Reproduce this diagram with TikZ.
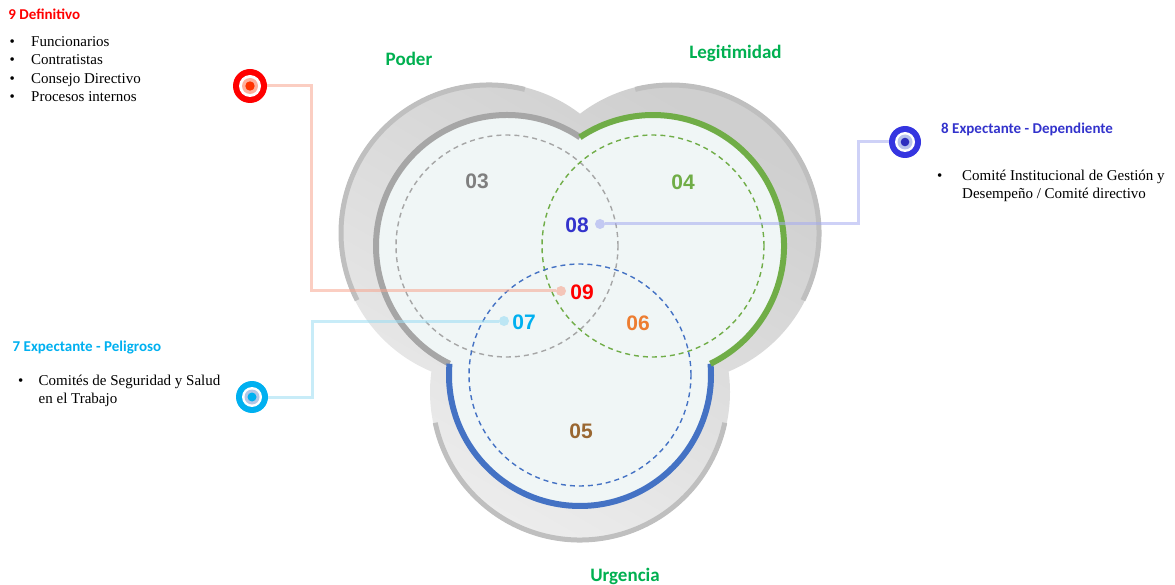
\documentclass[tikz,border=0pt]{standalone}
\usepackage{fontspec}
\setmainfont{Liberation Serif}
\newfontfamily\calfont{Carlito}
\newfontfamily\numfont{Liberation Sans}
\definecolor{pgreen}{HTML}{00B050}
\definecolor{cgray}{HTML}{A6A6A6}
\definecolor{cgreen}{HTML}{70AD47}
\definecolor{cblue}{HTML}{4472C4}
\definecolor{innerfill}{HTML}{F0F6F6}
\definecolor{rimgray}{HTML}{BFBFBF}
\definecolor{outerA}{HTML}{CFCFCF}
\definecolor{outerB}{HTML}{EDEDED}
\definecolor{red9}{HTML}{FF0000}
\definecolor{blue8}{HTML}{3333CC}
\definecolor{cyan7}{HTML}{00B0F0}
\definecolor{orange6}{HTML}{ED7D31}
\definecolor{brown5}{HTML}{9A6731}
\definecolor{gray3}{HTML}{7F7F7F}
\definecolor{ring8}{HTML}{3535E0}
\definecolor{pink9}{HTML}{FFB09C}
\definecolor{dot9}{HTML}{FF3300}
\definecolor{light8}{HTML}{B8C2EC}
\definecolor{light7}{HTML}{B4C7E7}
\definecolor{line9}{HTML}{F7A58F}
\definecolor{line8}{HTML}{A5ABF0}
\definecolor{line7}{HTML}{9ADCF3}
\begin{document}
\begin{tikzpicture}[x=1pt,y=1pt,
  rimline/.style={rimgray,line width=5pt},
  border/.style={line width=6pt},
  dashc/.style={line width=1.4pt,dash pattern=on 5pt off 4pt},
  num/.style={inner sep=0pt,font=\numfont\bfseries\fontsize{21}{24}\selectfont},
  title/.style={inner sep=0pt,anchor=base,text=pgreen,font=\calfont\bfseries\fontsize{19}{22}\selectfont},
  head/.style={inner sep=0pt,anchor=base west,font=\calfont\bfseries\fontsize{15}{18}\selectfont},
  body/.style={inner sep=0pt,anchor=base west,font=\fontsize{15}{18.3}\selectfont},
  icon/.style={circle,inner sep=0pt,minimum size=#1},
  conn/.style={line width=3pt,opacity=0.55},
  enddot/.style={circle,inner sep=0pt,minimum size=10pt,opacity=0.6}
]
\useasboundingbox (0,0) rectangle (1175,-585);
% centres
\coordinate (OL) at (489,-233);
\coordinate (OR) at (671,-233);
\coordinate (OB) at (580,-392);
\coordinate (CL) at (507,-246);
\coordinate (CR) at (653,-246);
\coordinate (CB) at (580,-375);
% outer grey shape
\shade[top color=outerA,bottom color=outerB,shading angle=-30]
  (OL) circle[radius=150] (OR) circle[radius=150] (OB) circle[radius=150];
\draw[rimline] ([shift={(76:148)}]OL) arc[start angle=76,end angle=207,radius=148];
\draw[rimline] ([shift={(-27:148)}]OR) arc[start angle=-27,end angle=104,radius=148];
\draw[rimline] ([shift={(192:148)}]OB) arc[start angle=192,end angle=348,radius=148];
% inner union
\fill[innerfill] (CL) circle[radius=131] (CR) circle[radius=131] (CB) circle[radius=131];
\draw[border,cgray] ([shift={(56.1:131)}]CL) arc[start angle=56.1,end angle=244,radius=131];
\draw[border,cblue] ([shift={(175.05:131)}]CB) arc[start angle=175.05,end angle=364.95,radius=131];
\draw[border,cgreen] ([shift={(-64:131)}]CR) arc[start angle=-64,end angle=123.9,radius=131];
% dashed circles
\draw[dashc,cgray] (CL) circle[radius=111];
\draw[dashc,cgreen] (CR) circle[radius=111];
\draw[dashc,cblue] (CB) circle[radius=111];
% icons
\node[icon=34pt,fill=red9] (i9) at (250,-86) {};
\fill[white] (i9) circle[radius=11];
\fill[pink9] (i9) circle[radius=8];
\fill[dot9] (i9) circle[radius=4.7];
\node[icon=32pt,fill=ring8] (i8) at (905,-142) {};
\fill[white] (i8) circle[radius=10];
\fill[light8] (i8) circle[radius=7.5];
\fill[ring8!85!black] (i8) circle[radius=4.3];
\node[icon=32pt,fill=cyan7] (i7) at (252,-397) {};
\fill[white] (i7) circle[radius=10];
\fill[light7] (i7) circle[radius=7.5];
\fill[cyan7] (i7) circle[radius=4.5];
% end dots
\node[enddot,fill=line9] (d9) at (561,-291) {};
\node[enddot,fill=line8] (d8) at (600,-224) {};
\node[enddot,fill=line7] (d7) at (504,-321) {};
\coordinate (k9) at (311,-86);
\coordinate (k8) at (858,-142);
\coordinate (k7) at (312,-397);
\draw[conn,line9] (i9.east) -- (k9) |- (d9.west);
\draw[conn,line8] (i8.west) -- (k8) |- (d8.east);
\draw[conn,line7] (i7.east) -- (k7) |- (d7.west);
% numbers
\node[num,text=gray3] (n03) at (477,-181) {03};
\node[num,text=cgreen] (n04) at (683,-182) {04};
\node[num,text=blue8] (n08) at (577,-225) {08};
\node[num,text=red9] (n09) at (582,-292) {09};
\node[num,text=cyan7] (n07) at (524,-322) {07};
\node[num,text=orange6] (n06) at (638,-323) {06};
\node[num,text=brown5] (n05) at (581,-431) {05};
% titles
\node[title] (tp) at (409,-66) {Poder};
\node[title] (tl) at (735.5,-59) {Legitimidad};
\node[title] (tu) at (625,-581) {Urgencia};
% left top block
\node[head,text=red9] (h9) at (8.3,-20) {9 Definitivo};
\node[body] (b9) at (9.5,-46.7) {\setlength\tabcolsep{0pt}\begin{tabular}[t]{@{}p{21.5pt}l@{}}
\textbullet & Funcionarios\\ \textbullet & Contratistas\\ \textbullet & Consejo Directivo\\ \textbullet & Procesos internos\end{tabular}};
% right block
\node[head,text=blue8] (h8) at (941,-134) {8 Expectante - Dependiente};
\node[body] (b8) at (937,-180.7) {\setlength\tabcolsep{0pt}\begin{tabular}[t]{@{}p{25pt}l@{}}
\textbullet & Comité Institucional de Gestión y\\ & Desempeño / Comité directivo\end{tabular}};
% left bottom block
\node[head,text=cyan7] (h7) at (12.5,-351.7) {7 Expectante - Peligroso};
\node[body] (b7) at (18,-385) {\setlength\tabcolsep{0pt}\begin{tabular}[t]{@{}p{20.5pt}l@{}}
\textbullet & Comités de Seguridad y Salud\\ & en el Trabajo\end{tabular}};
\end{tikzpicture}
\end{document}
